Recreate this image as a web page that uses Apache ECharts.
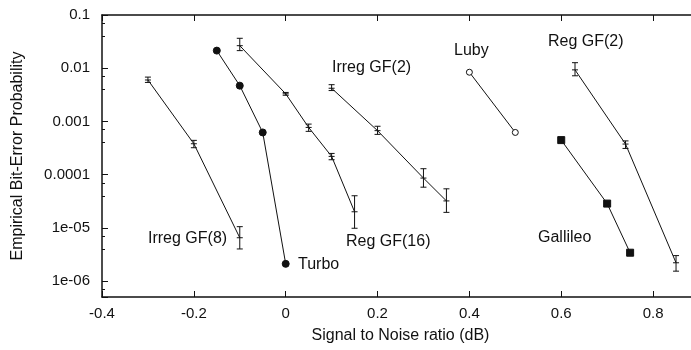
<!DOCTYPE html>
<html>
<head>
<meta charset="utf-8">
<script src="https://cdn.jsdelivr.net/npm/echarts@6/dist/echarts.min.js"></script>
<style>
  html, body { margin: 0; padding: 0; background: #fff; }
  #chart { width: 691px; height: 350px; }
</style>
</head>
<body>
<div id="chart"></div>
<script>
// Irreg GF(8): error bars
const gf8Snr = [-0.3, -0.2, -0.1];
const gf8Ber = [6.0e-3, 3.8e-4, 6.5e-6];
const gf8Lo = [5.4e-3, 3.2e-4, 4.0e-6];
const gf8Hi = [6.8e-3, 4.4e-4, 1.05e-5];

// Turbo: filled circles
const turboSnr = [-0.15, -0.1, -0.05, 0];
const turboBer = [0.0214, 0.0047, 6.2e-4, 2.1e-6];

// Reg GF(16): error bars
const gf16Snr = [-0.1, 0, 0.05, 0.1, 0.15];
const gf16Ber = [0.0265, 0.0033, 7.7e-4, 2.2e-4, 2.0e-5];
const gf16Lo = [0.0214, 0.0031, 6.5e-4, 1.9e-4, 9.8e-6];
const gf16Hi = [0.0365, 0.0035, 8.9e-4, 2.5e-4, 4.0e-5];

// Irreg GF(2): error bars
const igf2Snr = [0.1, 0.2, 0.3, 0.35];
const igf2Ber = [0.0042, 6.7e-4, 8.6e-5, 3.2e-5];
const igf2Lo = [0.0038, 5.7e-4, 5.8e-5, 1.95e-5];
const igf2Hi = [0.0049, 8.1e-4, 1.29e-4, 5.4e-5];

// Luby: open circles
const lubySnr = [0.4, 0.5];
const lubyBer = [0.0084, 6.2e-4];

// Reg GF(2): error bars
const rgf2Snr = [0.63, 0.74, 0.85];
const rgf2Ber = [0.0093, 3.75e-4, 2.2e-6];
const rgf2Lo = [0.0072, 3.1e-4, 1.53e-6];
const rgf2Hi = [0.0127, 4.3e-4, 3.0e-6];

// Gallileo: filled squares
const galSnr = [0.6, 0.7, 0.75];
const galBer = [4.45e-4, 2.85e-5, 3.4e-6];

const xTicks = [-0.4, -0.2, 0, 0.2, 0.4, 0.6, 0.8];
const yTicks = [1e-6, 1e-5, 1e-4, 1e-3, 1e-2, 1e-1];
const yTickText = ['1e-06', '1e-05', '0.0001', '0.001', '0.01', '0.1'];

const curveLabels = [
  { text: 'Irreg GF(8)', left: 148, top: 231 },
  { text: 'Turbo', left: 298, top: 257 },
  { text: 'Reg GF(16)', left: 346, top: 234 },
  { text: 'Irreg GF(2)', left: 332, top: 60 },
  { text: 'Luby', left: 454, top: 43 },
  { text: 'Reg GF(2)', left: 548, top: 34 },
  { text: 'Gallileo', left: 538, top: 230 }
];

const ink = '#111';
const font = 'Liberation Sans, Arial, sans-serif';

const pairs = (xs, ys) => xs.map((x, i) => [x, ys[i]]);
const quads = (xs, ys, lo, hi) => xs.map((x, i) => [x, ys[i], lo[i], hi[i]]);

function errorItem(params, api) {
  const x = api.value(0);
  const mid = api.coord([x, api.value(1)]);
  const lo = api.coord([x, api.value(2)]);
  const hi = api.coord([x, api.value(3)]);
  const cap = 3;
  const st = { stroke: ink, lineWidth: 1 };
  return {
    type: 'group',
    children: [
      { type: 'line', shape: { x1: lo[0], y1: lo[1], x2: hi[0], y2: hi[1] }, style: st },
      { type: 'line', shape: { x1: lo[0] - cap, y1: lo[1], x2: lo[0] + cap, y2: lo[1] }, style: st },
      { type: 'line', shape: { x1: hi[0] - cap, y1: hi[1], x2: hi[0] + cap, y2: hi[1] }, style: st },
      { type: 'line', shape: { x1: mid[0] - cap, y1: mid[1], x2: mid[0] + cap, y2: mid[1] }, style: st }
    ]
  };
}

function lineSeries(name, data, symbol, size, fill) {
  return {
    name,
    type: 'line',
    data,
    symbol: symbol || 'none',
    symbolSize: size || 0,
    showSymbol: !!symbol,
    lineStyle: { color: ink, width: 1 },
    itemStyle: { color: fill || ink, borderColor: ink, borderWidth: fill ? 1 : 0 },
    z: 3
  };
}

function errSeries(name, data) {
  return {
    name: name + ' err',
    type: 'custom',
    data,
    renderItem: errorItem,
    encode: { x: 0, y: [1, 2, 3] },
    z: 4
  };
}

const chart = echarts.init(document.getElementById('chart'));
chart.setOption({
  animation: false,
  backgroundColor: '#fff',
  textStyle: { fontFamily: font, color: ink },
  // the plot box runs past the right edge of the picture
  grid: { left: 102, width: 597, top: 15, bottom: 53, outerBoundsMode: 'none' },
  xAxis: [
    {
      type: 'value',
      min: -0.4,
      max: 0.9,
      interval: 0.2,
      name: 'Signal to Noise ratio (dB)',
      nameLocation: 'middle',
      nameGap: 31,
      nameTextStyle: { fontSize: 16, color: ink, fontFamily: font },
      axisLine: { onZero: false, lineStyle: { color: ink, width: 1.5 } },
      axisTick: { inside: true, length: 6, lineStyle: { color: ink } },
      axisLabel: { fontSize: 15, color: ink, margin: 9, showMaxLabel: false, fontFamily: font,
        formatter: v => (xTicks.some(t => Math.abs(t - v) < 1e-9) ? String(+v.toFixed(1)) : '') },
      splitLine: { show: false }
    },
    {
      type: 'value',
      position: 'top',
      min: -0.4,
      max: 0.9,
      interval: 0.2,
      axisLine: { onZero: false, lineStyle: { color: ink, width: 1.5 } },
      axisTick: { inside: true, length: 6, lineStyle: { color: ink } },
      axisLabel: { show: false },
      splitLine: { show: false }
    }
  ],
  yAxis: {
    type: 'log',
    min: 5e-7,
    max: 0.1,
    logBase: 10,
    name: 'Empirical Bit-Error Probability',
    nameLocation: 'middle',
    nameGap: 76,
    nameTextStyle: { fontSize: 16, color: ink, fontFamily: font },
    axisLine: { show: true, onZero: false, lineStyle: { color: ink, width: 1.5 } },
    axisTick: { inside: true, length: 6, lineStyle: { color: ink } },
    minorTick: { show: true, splitNumber: 3, length: 3, lineStyle: { color: ink } },
    axisLabel: {
      fontSize: 15, color: ink, margin: 12, showMinLabel: false, fontFamily: font,
      formatter: v => {
        const i = yTicks.findIndex(t => Math.abs(Math.log10(t) - Math.log10(v)) < 1e-6);
        return i >= 0 ? yTickText[i] : '';
      }
    },
    splitLine: { show: false }
  },
  series: [
    lineSeries('Irreg GF(8)', pairs(gf8Snr, gf8Ber)),
    errSeries('Irreg GF(8)', quads(gf8Snr, gf8Ber, gf8Lo, gf8Hi)),
    lineSeries('Turbo', pairs(turboSnr, turboBer), 'circle', 7, ink),
    lineSeries('Reg GF(16)', pairs(gf16Snr, gf16Ber)),
    errSeries('Reg GF(16)', quads(gf16Snr, gf16Ber, gf16Lo, gf16Hi)),
    lineSeries('Irreg GF(2)', pairs(igf2Snr, igf2Ber)),
    errSeries('Irreg GF(2)', quads(igf2Snr, igf2Ber, igf2Lo, igf2Hi)),
    lineSeries('Luby', pairs(lubySnr, lubyBer), 'circle', 6, '#fff'),
    lineSeries('Reg GF(2)', pairs(rgf2Snr, rgf2Ber)),
    errSeries('Reg GF(2)', quads(rgf2Snr, rgf2Ber, rgf2Lo, rgf2Hi)),
    lineSeries('Gallileo', pairs(galSnr, galBer), 'rect', 7, ink)
  ],
  graphic: curveLabels.map(l => ({
    type: 'text',
    left: l.left,
    top: l.top,
    style: { text: l.text, fontSize: 16, fill: ink, fontFamily: font }
  }))
});
</script>
</body>
</html>
